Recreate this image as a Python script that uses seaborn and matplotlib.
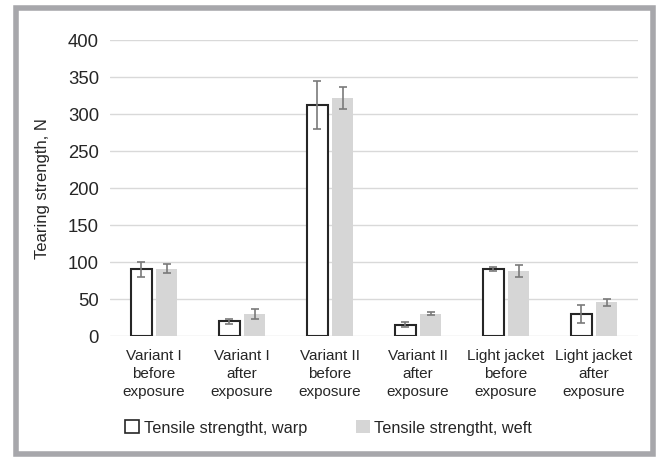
import matplotlib
matplotlib.use("Agg")
import matplotlib.pyplot as plt
from matplotlib.patches import Patch, Rectangle
import numpy as np
import pandas as pd
import seaborn as sns

# Sample groups (x axis)
categories = [
    "Variant I\nbefore\nexposure",
    "Variant I\nafter\nexposure",
    "Variant II\nbefore\nexposure",
    "Variant II\nafter\nexposure",
    "Light jacket\nbefore\nexposure",
    "Light jacket\nafter\nexposure",
]
series_names = ["Tensile strengtht, warp", "Tensile strengtht, weft"]

# Tearing strength, N
warp_mean = [90.5, 20.2, 312.5, 15.7, 90.5, 30.5]
warp_err = [10.0, 3.0, 32.5, 3.2, 2.7, 12.2]
weft_mean = [91.0, 30.2, 322.0, 30.5, 88.5, 46.0]
weft_err = [6.1, 6.5, 15.0, 2.2, 7.7, 4.5]

y_ticks = [0, 50, 100, 150, 200, 250, 300, 350, 400]

df = pd.DataFrame({
    "group": categories * 2,
    "series": [series_names[0]] * len(categories) + [series_names[1]] * len(categories),
    "value": warp_mean + weft_mean,
    "err": warp_err + weft_err,
})

text_color = "#262626"
grid_color = "#d9d9d9"
weft_color = "#d6d6d6"
edge_color = "#262626"
err_color = "#7a7a7a"

sns.set_style("white")
plt.rcParams["font.family"] = ["Liberation Sans", "DejaVu Sans"]

fig = plt.figure(figsize=(6.56, 4.57), dpi=100)
ax = fig.add_axes([110 / 656, 1 - 336.3 / 457, (638 - 110) / 656, (336.3 - 40.3) / 457])

sns.barplot(
    data=df, x="group", y="value", hue="series",
    order=categories, hue_order=series_names,
    palette=["white", weft_color], errorbar=None,
    width=0.58, gap=0.19, ax=ax, legend=False, saturation=1,
)

# Outline the warp bars, leave the weft bars flat
for patch in ax.containers[0]:
    patch.set_edgecolor(edge_color)
    patch.set_linewidth(1.5)
    patch.set_zorder(3)
for patch in ax.containers[1]:
    patch.set_edgecolor("none")
    patch.set_zorder(3)

# Standard deviation whiskers
for container, errs in zip(ax.containers, [warp_err, weft_err]):
    for patch, e in zip(container, errs):
        xc = patch.get_x() + patch.get_width() / 2
        ax.errorbar(xc, patch.get_height(), yerr=e, fmt="none",
                    ecolor=err_color, elinewidth=1.2, capsize=3.2,
                    capthick=1.2, zorder=4)

ax.set_ylim(0, 400)
ax.set_yticks(y_ticks)
ax.set_yticklabels([str(v) for v in y_ticks], fontsize=13.3, color=text_color)
ax.set_xlim(-0.5, len(categories) - 0.5)
ax.tick_params(axis="y", length=0, pad=8)
ax.tick_params(axis="x", length=0, pad=9, labelsize=11, labelcolor=text_color)
for lbl in ax.get_xticklabels():
    lbl.set_linespacing(1.36)
ax.grid(axis="y", color=grid_color, linewidth=1.0, zorder=0)
ax.set_axisbelow(True)
for s in ax.spines.values():
    s.set_visible(False)
ax.set_xlabel("")
ax.set_ylabel("Tearing strength, N", fontsize=12, color=text_color, labelpad=13)

# Legend under the chart
handles = [
    Patch(facecolor="white", edgecolor=edge_color, linewidth=1.2),
    Patch(facecolor=weft_color, edgecolor="none"),
]
fig.legend(handles, series_names, loc="center left",
           bbox_to_anchor=(125 / 656, 1 - 428 / 457), ncol=2, frameon=False,
           fontsize=11.7, handlelength=0.85, handleheight=0.85,
           handletextpad=0.3, columnspacing=3.0, borderpad=0,
           borderaxespad=0, labelcolor=text_color)

# Grey frame around the whole figure
fig.patches.append(Rectangle((15.5 / 656, 2.8 / 457), 637 / 656, 446.4 / 457,
                             transform=fig.transFigure, fill=False,
                             edgecolor="#a7a7ab", linewidth=4.0))

fig.savefig("out.png", dpi=100)
